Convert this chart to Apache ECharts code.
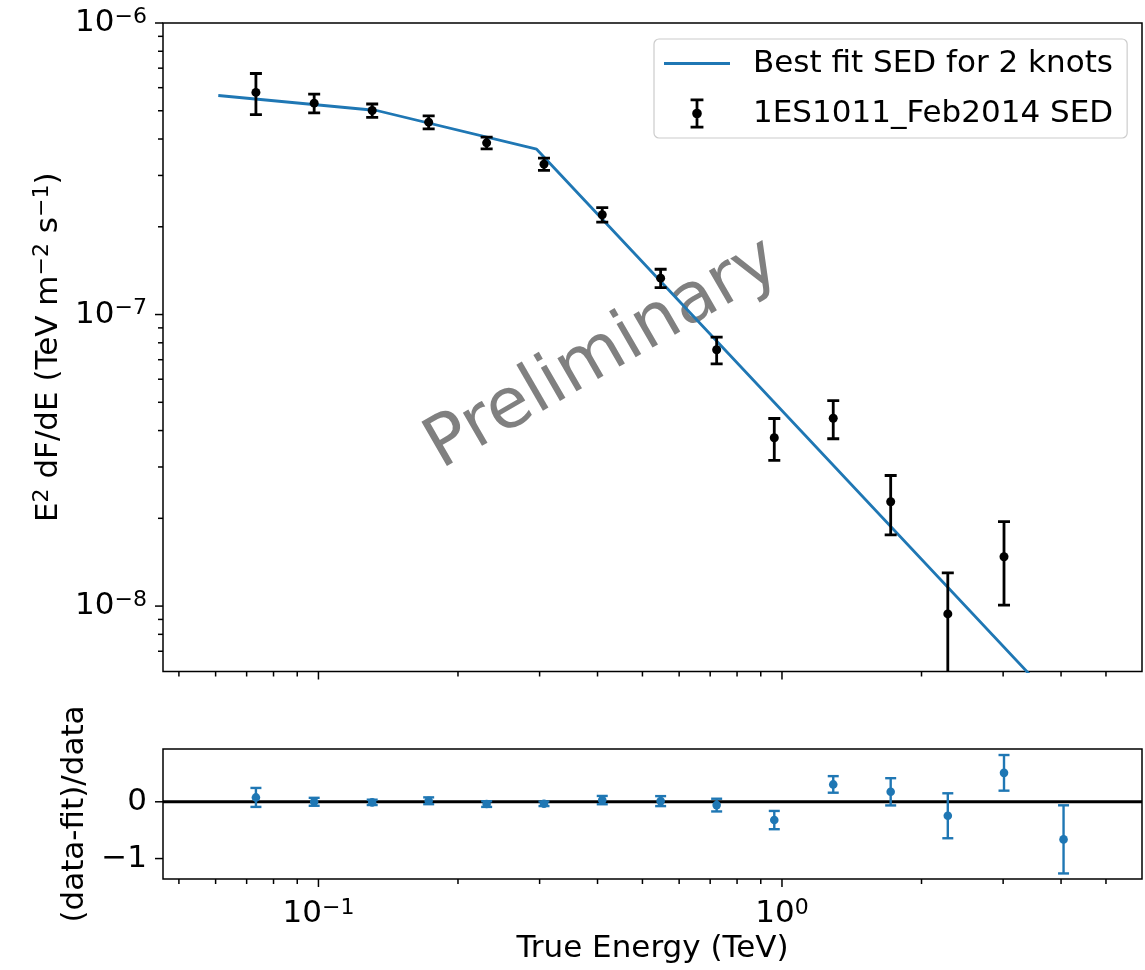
<!DOCTYPE html>
<html><head><meta charset="utf-8">
<script src="https://cdn.jsdelivr.net/npm/echarts@6/dist/echarts.min.js"></script>
<style>html,body{margin:0;padding:0;background:#fff}#c{width:1145px;height:970px}</style>
</head><body><div id="c"></div>
<script>
// ---- data ----
const energy = [0.0733, 0.0979, 0.1306, 0.1729, 0.2306, 0.3066, 0.4095, 0.5473, 0.7229, 0.9625, 1.290, 1.716, 2.279, 3.013];
const sedFlux = [5.78e-7, 5.31e-7, 5.01e-7, 4.57e-7, 3.88e-7, 3.28e-7, 2.20e-7, 1.333e-7, 7.57e-8, 3.78e-8, 4.41e-8, 2.28e-8, 9.40e-9, 1.477e-8];
const sedErr = [0.93e-7, 0.39e-7, 0.265e-7, 0.235e-7, 0.18e-7, 0.16e-7, 0.125e-7, 9.7e-9, 8.0e-9, 6.2e-9, 6.6e-9, 5.25e-9, 3.6e-9, 4.7e-9];

const fitEnergy = [0.0608, 0.1335, 0.2956, 4.05];
const fitFlux = [5.64e-7, 5.01e-7, 3.69e-7, 4.38e-9];

const resEnergy = [0.0733, 0.0979, 0.1306, 0.1729, 0.2306, 0.3066, 0.4095, 0.5473, 0.7229, 0.9625, 1.290, 1.716, 2.279, 3.013, 4.05];
const residual = [0.077, 0.0, -0.01, 0.018, -0.04, -0.035, 0.03, 0.012, -0.058, -0.322, 0.306, 0.176, -0.246, 0.51, -0.662];
const residualErr = [0.167, 0.07, 0.047, 0.06, 0.05, 0.04, 0.073, 0.088, 0.112, 0.161, 0.146, 0.24, 0.396, 0.314, 0.60];

const X_MIN = 0.0462, X_MAX = 5.98;
const Y_MIN = 5.965e-9, Y_MAX = 1e-6;
const R_MIN = -1.36, R_MAX = 0.93;

const xMajorTicks = [0.1, 1];
const xMinorTicks = [0.05, 0.06, 0.07, 0.08, 0.09, 0.2, 0.3, 0.4, 0.5, 0.6, 0.7, 0.8, 0.9, 2, 3, 4, 5];
const yMajorTicks = [1e-8, 1e-7, 1e-6];
const yMinorTicks = [7e-9, 8e-9, 9e-9, 2e-8, 3e-8, 4e-8, 5e-8, 6e-8, 7e-8, 8e-8, 9e-8, 2e-7, 3e-7, 4e-7, 5e-7, 6e-7, 7e-7, 8e-7, 9e-7];
const rTicks = [-1, 0];

const FIT_NAME = 'Best fit SED for 2 knots';
const SED_NAME = '1ES1011_Feb2014 SED';
const BLUE = '#1f77b4';
const FONT = 'DejaVu Sans';

// ---- helpers ----
function powLabel(v) {
  const l = Math.log10(v), e = Math.round(l);
  if (Math.abs(l - e) > 1e-6) return '';
  return '{b|10}{s|' + (e < 0 ? '\u2212' + (-e) : String(e)) + '}';
}
const powRich = {
  b: { fontSize: 31, fontFamily: FONT, color: '#000', lineHeight: 34 },
  s: { fontSize: 22, fontFamily: FONT, color: '#000', verticalAlign: 'top', lineHeight: 22 }
};

function errRender(color, cap, r, lw) {
  return function (params, api) {
    const x = api.value(0), y = api.value(1), e = api.value(2);
    const c = api.coord([x, y]);
    const hi = api.coord([x, y + e]);
    const lo = api.coord([x, y - e]);
    const st = { stroke: color, lineWidth: lw };
    return { type: 'group', children: [
      { type: 'line', shape: { x1: c[0], y1: hi[1], x2: c[0], y2: lo[1] }, style: st },
      { type: 'line', shape: { x1: c[0] - cap, y1: hi[1], x2: c[0] + cap, y2: hi[1] }, style: st },
      { type: 'line', shape: { x1: c[0] - cap, y1: lo[1], x2: c[0] + cap, y2: lo[1] }, style: st },
      { type: 'circle', shape: { cx: c[0], cy: c[1], r: r }, style: { fill: color } }
    ] };
  };
}
function xTickItem(params, api) {
  const cs = params.coordSys;
  const px = api.coord([api.value(0), api.value(1)])[0];
  const y0 = cs.y + cs.height;
  return { type: 'line', shape: { x1: px, y1: y0, x2: px, y2: y0 + api.value(2) }, style: { stroke: '#000', lineWidth: 1.5 } };
}
function yTickItem(params, api) {
  const cs = params.coordSys;
  const py = api.coord([api.value(0), api.value(1)])[1];
  return { type: 'line', shape: { x1: cs.x - api.value(2), y1: py, x2: cs.x, y2: py }, style: { stroke: '#000', lineWidth: 1.5 } };
}
function tickSeries(xi, yi, data, render) {
  return { type: 'custom', xAxisIndex: xi, yAxisIndex: yi, renderItem: render, data: data, clip: false, silent: true, z: 5 };
}

const hiddenAxisParts = { axisLine: { show: false }, axisTick: { show: false }, splitLine: { show: false }, minorTick: { show: false }, minorSplitLine: { show: false } };

const chart = echarts.init(document.getElementById('c'), null, { renderer: 'canvas' });
chart.setOption({
  animation: false,
  backgroundColor: '#fff',
  textStyle: { fontFamily: FONT },
  grid: [
    { left: 163, top: 23, width: 979, height: 648.5, show: true, borderColor: '#000', borderWidth: 1.5, backgroundColor: 'transparent' },
    { left: 163, top: 749, width: 979, height: 130, show: true, borderColor: '#000', borderWidth: 1.5, backgroundColor: 'transparent' }
  ],
  xAxis: [
    Object.assign({ type: 'log', logBase: 10, gridIndex: 0, min: X_MIN, max: X_MAX, axisLabel: { show: false } }, hiddenAxisParts),
    Object.assign({ type: 'log', logBase: 10, gridIndex: 1, min: X_MIN, max: X_MAX,
      axisLabel: { show: true, margin: 18, formatter: powLabel, rich: powRich },
      name: 'True Energy (TeV)', nameLocation: 'middle', nameGap: 54,
      nameTextStyle: { fontSize: 31, fontFamily: FONT, color: '#000' } }, hiddenAxisParts)
  ],
  yAxis: [
    Object.assign({ type: 'log', logBase: 10, gridIndex: 0, min: Y_MIN, max: Y_MAX,
      axisLabel: { show: true, margin: 16, formatter: powLabel, rich: powRich },
      name: '{n|E}{s|2}{n| dF/dE (TeV m}{s|\u22122}{n| s}{s|\u22121}{n|)}', nameLocation: 'middle', nameGap: 92, nameRotate: 90,
      nameTextStyle: { fontSize: 31, fontFamily: FONT, color: '#000', rich: {
        n: { fontSize: 31, fontFamily: FONT, color: '#000', lineHeight: 34 },
        s: { fontSize: 22, fontFamily: FONT, color: '#000', verticalAlign: 'top', lineHeight: 22 } } } }, hiddenAxisParts),
    Object.assign({ type: 'value', gridIndex: 1, min: R_MIN, max: R_MAX,
      axisLabel: { show: true, margin: 16, fontSize: 31, fontFamily: FONT, color: '#000',
        formatter: function (v) { if (Math.abs(v) < 1e-9) return '0'; if (Math.abs(v + 1) < 1e-9) return '\u22121'; return ''; } },
      name: '(data-fit)/data', nameLocation: 'middle', nameGap: 56, nameRotate: 90,
      nameTextStyle: { fontSize: 31, fontFamily: FONT, color: '#000' } }, hiddenAxisParts)
  ],
  legend: {
    orient: 'vertical', left: 654, top: 39,
    padding: [9, 14, 9, 10], itemGap: 19, itemWidth: 66, itemHeight: 30,
    borderColor: '#cccccc', borderWidth: 1.2, borderRadius: 5, backgroundColor: 'rgba(255,255,255,0.8)',
    textStyle: { fontSize: 31, fontFamily: FONT, color: '#000', padding: [0, 0, 0, 18] },
    data: [
      { name: FIT_NAME, icon: 'path://M0,0H66V2.8H0Z' },
      { name: SED_NAME, icon: 'path://M0,0H12V2.6H0Z M4.7,0H7.3V28H4.7Z M0,25.4H12V28H0Z M1.5,14A4.5,4.5,0,1,1,10.5,14A4.5,4.5,0,1,1,1.5,14Z' }
    ]
  },
  graphic: [{
    type: 'text', x: 603, y: 355, rotation: Math.PI / 6, z: 1, silent: true,
    style: { text: 'Preliminary', fontSize: 70, fontFamily: FONT, fill: '#808080', align: 'center', verticalAlign: 'middle' }
  }],
  series: [
    { name: FIT_NAME, type: 'line', xAxisIndex: 0, yAxisIndex: 0, symbol: 'none', clip: true, z: 3,
      lineStyle: { color: BLUE, width: 2.8 }, itemStyle: { color: BLUE },
      data: fitEnergy.map((e, i) => [e, fitFlux[i]]) },
    { name: SED_NAME, type: 'custom', xAxisIndex: 0, yAxisIndex: 0, clip: true, z: 4,
      itemStyle: { color: '#000' }, renderItem: errRender('#000', 6, 4.5, 2.8),
      data: energy.map((e, i) => [e, sedFlux[i], sedErr[i]]) },
    { name: 'zero', type: 'line', xAxisIndex: 1, yAxisIndex: 1, symbol: 'none', z: 3, silent: true,
      lineStyle: { color: '#000', width: 3 }, data: [[X_MIN, 0], [X_MAX, 0]] },
    { name: 'residual', type: 'custom', xAxisIndex: 1, yAxisIndex: 1, clip: true, z: 4,
      itemStyle: { color: BLUE }, renderItem: errRender(BLUE, 5.5, 4.3, 2.4),
      data: resEnergy.map((e, i) => [e, residual[i], residualErr[i]]) },
    tickSeries(0, 0, xMajorTicks.map(v => [v, Y_MAX, 8]), xTickItem),
    tickSeries(0, 0, xMinorTicks.map(v => [v, Y_MAX, 5]), xTickItem),
    tickSeries(1, 1, xMajorTicks.map(v => [v, 0, 8]), xTickItem),
    tickSeries(1, 1, xMinorTicks.map(v => [v, 0, 5]), xTickItem),
    tickSeries(0, 0, yMajorTicks.map(v => [X_MAX, v, 8]), yTickItem),
    tickSeries(0, 0, yMinorTicks.map(v => [X_MAX, v, 5]), yTickItem),
    tickSeries(1, 1, rTicks.map(v => [X_MAX, v, 8]), yTickItem)
  ]
});
</script>
</body></html>
